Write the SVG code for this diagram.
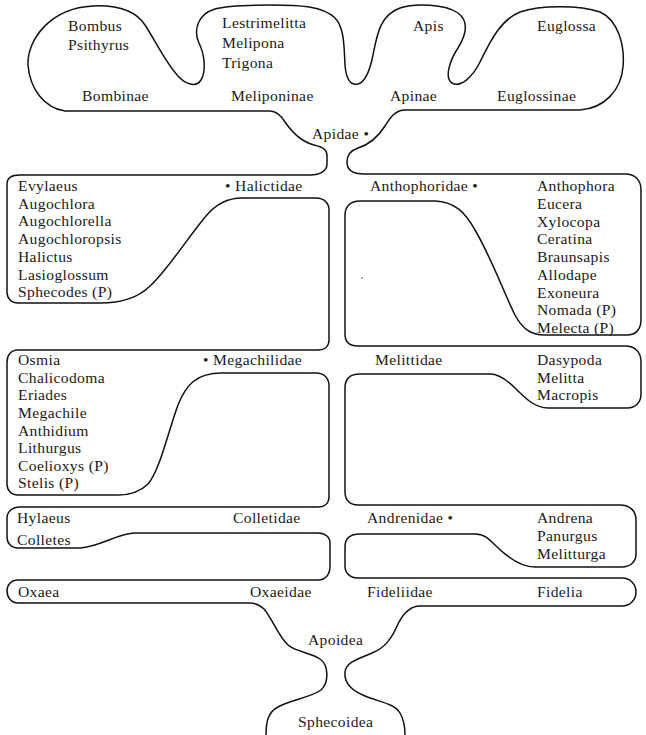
<svg xmlns="http://www.w3.org/2000/svg" width="646" height="735" viewBox="0 0 646 735">
<style>
.o{fill:none;stroke:#111;stroke-width:1.5;stroke-linejoin:round;stroke-linecap:round}
text{font-family:"Liberation Serif","Times New Roman",serif;font-size:15.6px;letter-spacing:0.35px;fill:#1a1a1a}
</style>
<rect width="646" height="735" fill="#fff"/>
<g id="outline">
<path class="o" d="M 266 735 C 266 722, 268 712, 278 707 C 290 700, 312 697, 321 690 C 329 683, 329 665, 320 659 C 312 653, 296 652, 288 645 C 278 636, 272 618, 264 609 C 260 605, 256 603, 250 603 L 18 603 C 11 603, 7 597, 7 591 C 7 585, 11 580, 18 580 L 318 580 C 326 580, 330 574, 330 566 L 330 543 C 330 537, 325 533, 318 533 L 135 533 C 118 533, 100 547, 80 548 L 18 548 C 11 548, 7 543, 7 537 L 7 518 C 7 512, 12 507, 20 507 L 318 507 C 325 507, 329 503, 329 497 L 329 386 C 329 378, 324 373, 316 373 L 222 373 C 196 373, 186 385, 178 405 C 168 432, 160 470, 148 484 C 140 492, 130 495, 118 495 L 18 495 C 11 495, 7 490, 7 484 L 7 362 C 7 355, 11 350, 18 350 L 318 350 C 325 350, 329 346, 329 340 L 329 210 C 329 203, 324 198, 316 198 L 242 198 C 228 198, 216 204, 206 216 C 186 240, 166 272, 150 286 C 138 298, 122 303, 100 303 L 18 303 C 11 303, 7 298, 7 292 L 7 184 C 7 178, 12 175, 20 175 L 310 175 C 320 175, 327 171, 327 164 L 327 156 C 327 149, 322 147, 314 145 C 302 142, 292 132, 285 122 C 280 114, 276 111, 270 111 L 65 111 C 45 108, 30 90, 28 65 C 27 40, 50 8, 93 6 C 115 5, 135 10, 145 25 C 155 40, 165 62, 178 76 C 185 84, 196 88, 201 80 C 206 72, 205 55, 199 43 C 193 30, 198 14, 215 9 C 228 5, 250 5, 270 5 C 300 5, 323 6, 335 18 C 345 28, 344 50, 345 65 C 346 78, 350 86, 358 84 C 366 82, 370 70, 373 55 C 377 35, 380 15, 400 8 C 415 3, 445 4, 458 13 C 470 22, 466 35, 458 48 C 450 60, 444 78, 452 83 C 460 88, 472 78, 480 62 C 490 42, 500 20, 520 12 C 540 5, 580 5, 600 12 C 618 20, 625 45, 623 67 C 621 90, 605 108, 580 110 L 405 110 C 395 110, 390 118, 385 126 C 378 137, 368 145, 358 148 C 349 151, 347 156, 347 162 C 347 170, 353 174, 364 174 L 625 174 C 635 174, 641 180, 641 190 L 641 320 C 641 329, 636 335, 627 335 L 545 335 C 530 335, 522 328, 515 315 C 505 295, 490 255, 475 230 C 465 212, 455 202, 435 201 L 360 201 C 350 201, 345 207, 345 215 L 345 334 C 345 342, 350 346, 358 346 L 625 346 C 635 346, 641 352, 641 362 L 641 394 C 641 402, 636 408, 627 408 L 548 408 C 535 408, 525 398, 515 388 C 505 378, 498 374, 490 374 L 360 374 C 350 374, 345 379, 345 388 L 345 492 C 345 500, 350 505, 358 505 L 620 505 C 630 505, 636 511, 636 520 L 636 554 C 636 562, 630 567, 622 567 L 535 567 C 520 567, 505 555, 495 545 C 488 538, 484 534, 475 534 L 360 534 C 350 534, 345 539, 345 547 L 345 566 C 345 573, 350 578, 358 578 L 622 578 C 630 578, 636 584, 636 592 C 636 600, 630 606, 622 606 L 420 606 C 410 606, 403 614, 398 624 C 392 638, 385 648, 372 653 C 358 659, 346 662, 345 672 C 344 682, 350 690, 365 696 C 380 702, 395 704, 400 713 C 404 720, 405 728, 405 735"/>
<circle cx="362" cy="278" r="0.8" fill="#555"/>
</g>
<g id="apidae">
<text x="68" y="31">Bombus</text>
<text x="68" y="50">Psithyrus</text>
<text x="222" y="28">Lestrimelitta</text>
<text x="222" y="48">Melipona</text>
<text x="222" y="68">Trigona</text>
<text x="413" y="31">Apis</text>
<text x="537" y="31">Euglossa</text>
<text x="82" y="101">Bombinae</text>
<text x="231" y="101">Meliponinae</text>
<text x="390" y="101">Apinae</text>
<text x="497" y="101">Euglossinae</text>
<text x="312" y="139">Apidae •</text>
</g>
<g id="halictidae">
<text x="18" y="191">Evylaeus</text>
<text x="18" y="209">Augochlora</text>
<text x="18" y="226">Augochlorella</text>
<text x="18" y="244">Augochloropsis</text>
<text x="18" y="262">Halictus</text>
<text x="18" y="280">Lasioglossum</text>
<text x="18" y="297">Sphecodes (P)</text>
<text x="225" y="191">• Halictidae</text>
</g>
<g id="anthophoridae">
<text x="370" y="191">Anthophoridae •</text>
<text x="537" y="191">Anthophora</text>
<text x="537" y="209">Eucera</text>
<text x="537" y="227">Xylocopa</text>
<text x="537" y="244">Ceratina</text>
<text x="537" y="262">Braunsapis</text>
<text x="537" y="280">Allodape</text>
<text x="537" y="298">Exoneura</text>
<text x="537" y="315">Nomada (P)</text>
<text x="537" y="333">Melecta (P)</text>
</g>
<g id="megachilidae">
<text x="18" y="365">Osmia</text>
<text x="18" y="383">Chalicodoma</text>
<text x="18" y="400">Eriades</text>
<text x="18" y="418">Megachile</text>
<text x="18" y="436">Anthidium</text>
<text x="18" y="453">Lithurgus</text>
<text x="18" y="471">Coelioxys (P)</text>
<text x="18" y="488">Stelis (P)</text>
<text x="203" y="365">• Megachilidae</text>
</g>
<g id="melittidae">
<text x="375" y="365">Melittidae</text>
<text x="537" y="365">Dasypoda</text>
<text x="537" y="383">Melitta</text>
<text x="537" y="400">Macropis</text>
</g>
<g id="colletidae">
<text x="17" y="523">Hylaeus</text>
<text x="17" y="545">Colletes</text>
<text x="233" y="523">Colletidae</text>
</g>
<g id="andrenidae">
<text x="367" y="523">Andrenidae •</text>
<text x="537" y="523">Andrena</text>
<text x="537" y="541">Panurgus</text>
<text x="537" y="559">Melitturga</text>
</g>
<g id="oxaeidae">
<text x="18" y="597">Oxaea</text>
<text x="250" y="597">Oxaeidae</text>
</g>
<g id="fideliidae">
<text x="367" y="597">Fideliidae</text>
<text x="537" y="597">Fidelia</text>
</g>
<g id="apoidea">
<text x="308" y="645">Apoidea</text>
<text x="298" y="727">Sphecoidea</text>
</g>
</svg>
